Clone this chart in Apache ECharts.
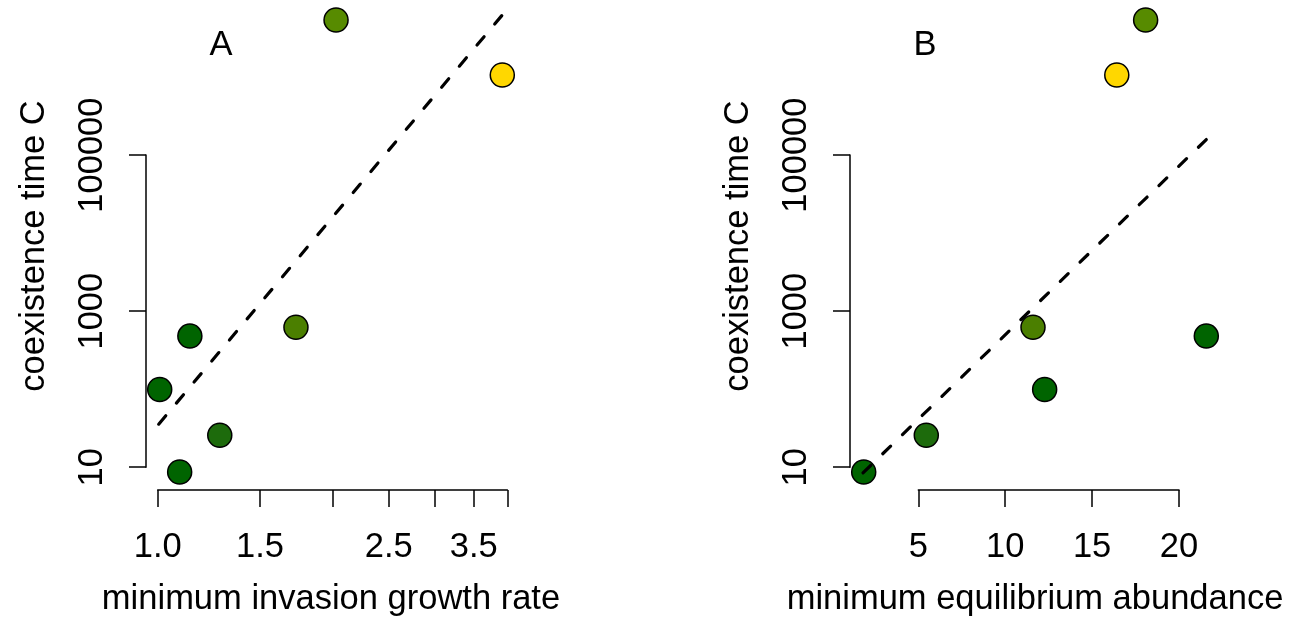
<!DOCTYPE html>
<html><head><meta charset="utf-8">
<script src="https://cdn.jsdelivr.net/npm/echarts@6/dist/echarts.min.js"></script>
<style>html,body{margin:0;padding:0;background:#fff}#c{width:1296px;height:617px}</style>
</head><body><div id="c"></div>
<script>
// ---- data ----
const coexistenceTime      = [99, 8.7, 479, 25.7, 623, 5.37e6, 1.06e6];
const invasionGrowthRate   = [1.008, 1.091, 1.136, 1.279, 1.73, 2.028, 3.92];
const equilibriumAbundance = [12.27, 1.86, 21.57, 5.46, 11.6, 18.08, 16.42];
const pointColors = ['#006400', '#006400', '#006400', '#1d6b0c', '#4b7f00', '#578b00', '#ffd700'];
const fitA_x = [1.004, 3.92];
const fitA_y = [35.6, 6.24e6];
const fitB_x = [1.82, 21.95];
const fitB_y = [8.45, 1.91e5];
const yTicks = [10, 1000, 100000];
const xTicksA = [1.0, 1.5, 2.0, 2.5, 3.0, 3.5, 4.0];
const xLabelsA = [1.0, 1.5, 2.5, 3.5];
const xTicksB = [5, 10, 15, 20];
const xLabelsB = [5, 10, 15, 20];

// ---- layout ----
const FONT = '"Liberation Sans", Arial, sans-serif';
const FS = 34.5;
const plotTop = 2, plotBottom = 490;

function expand(arr) {
  const mn = Math.min(...arr), mx = Math.max(...arr), d = (mx - mn) * 0.04;
  return [mn - d, mx + d];
}
const ly = v => Math.log10(v);
const yRange = expand(coexistenceTime.map(ly));

const panels = [
  { key: 'A', left: 146, width: 370, tx: v => Math.log(v), xs: invasionGrowthRate,
    ticks: xTicksA, labels: xLabelsA, fmt: v => Math.exp(v).toFixed(1),
    fitX: fitA_x, fitY: fitA_y, xName: 'minimum invasion growth rate', titleX: 221 },
  { key: 'B', left: 850, width: 370, tx: v => v, xs: equilibriumAbundance,
    ticks: xTicksB, labels: xLabelsB, fmt: v => String(Math.round(v)),
    fitX: fitB_x, fitY: fitB_y, xName: 'minimum equilibrium abundance', titleX: 925 }
];

const grid = [], xAxis = [], yAxis = [], series = [], graphic = [];
const axisLine = { show: true, onZero: false, lineStyle: { color: '#000', width: 1.5 } };
const axisTick = { show: true, length: 17, lineStyle: { color: '#000', width: 1.5 } };
const labelStyle = { color: '#000', fontFamily: FONT, fontSize: FS };

panels.forEach((p, i) => {
  const xRange = expand(p.xs.map(p.tx));
  const px = v => p.left + (v - xRange[0]) / (xRange[1] - xRange[0]) * p.width;
  const py = v => plotBottom - (v - yRange[0]) / (yRange[1] - yRange[0]) * (plotBottom - plotTop);
  // data grid
  const g0 = grid.length;
  grid.push({ left: p.left, top: plotTop, width: p.width, height: plotBottom - plotTop,
    containLabel: false, outerBoundsMode: 'none' });
  xAxis.push({ gridIndex: g0, type: 'value', min: xRange[0], max: xRange[1],
    axisLine: { show: false, onZero: false }, axisTick: { show: false }, axisLabel: { show: false }, splitLine: { show: false },
    name: p.xName, nameLocation: 'middle', nameGap: 92,
    nameTextStyle: labelStyle });
  yAxis.push({ gridIndex: g0, type: 'value', min: yRange[0], max: yRange[1],
    axisLine: { show: false, onZero: false }, axisTick: { show: false }, axisLabel: { show: false }, splitLine: { show: false },
    name: 'coexistence time C', nameLocation: 'middle', nameGap: 94,
    nameTextStyle: labelStyle });
  // axis grid (spans first to last tick like R axes)
  const xt = p.ticks.map(p.tx), yt = yTicks.map(ly);
  const gl = px(xt[0]), gr = px(xt[xt.length - 1]);
  const gt = py(yt[yt.length - 1]), gb = py(yt[0]);
  const g1 = grid.length;
  grid.push({ left: gl, top: gt, width: gr - gl, height: gb - gt,
    containLabel: false, outerBoundsMode: 'none' });
  xAxis.push({ gridIndex: g1, type: 'value', min: xt[0], max: xt[xt.length - 1],
    offset: plotBottom - gb, axisLine, axisTick: Object.assign({ customValues: xt }, axisTick),
    axisLabel: Object.assign({ customValues: p.labels.map(p.tx), formatter: p.fmt, margin: 40, hideOverlap: false }, labelStyle),
    splitLine: { show: false } });
  yAxis.push({ gridIndex: g1, type: 'value', min: yt[0], max: yt[yt.length - 1],
    offset: gl - p.left, axisLine, axisTick: Object.assign({ customValues: yt }, axisTick),
    axisLabel: Object.assign({ customValues: yt, rotate: 90, margin: 36, formatter: v => String(Math.round(Math.pow(10, v))) }, labelStyle),
    splitLine: { show: false } });
  // points
  series.push({ type: 'scatter', xAxisIndex: g0, yAxisIndex: g0, symbol: 'circle', symbolSize: 24, z: 2,
    itemStyle: { borderColor: '#000', borderWidth: 1.5, opacity: 1 },
    data: p.xs.map((x, k) => ({ value: [p.tx(x), ly(coexistenceTime[k])], itemStyle: { color: pointColors[k] } })) });
  // fitted dashed line
  series.push({ type: 'line', xAxisIndex: g0, yAxisIndex: g0, showSymbol: false, symbol: 'none', z: 3,
    lineStyle: { color: '#000', width: 3.2, type: [11, 16.5], cap: 'round' },
    data: p.fitX.map((x, k) => [p.tx(x), ly(p.fitY[k])]) });
  graphic.push({ type: 'text', x: p.titleX, y: 45,
    style: { text: p.key, fill: '#000', font: FS + 'px ' + FONT, align: 'center', verticalAlign: 'middle' } });
});

const chart = echarts.init(document.getElementById('c'), null, { renderer: 'canvas' });
chart.setOption({ animation: false, backgroundColor: '#fff', grid, xAxis, yAxis, series, graphic });
</script></body></html>
